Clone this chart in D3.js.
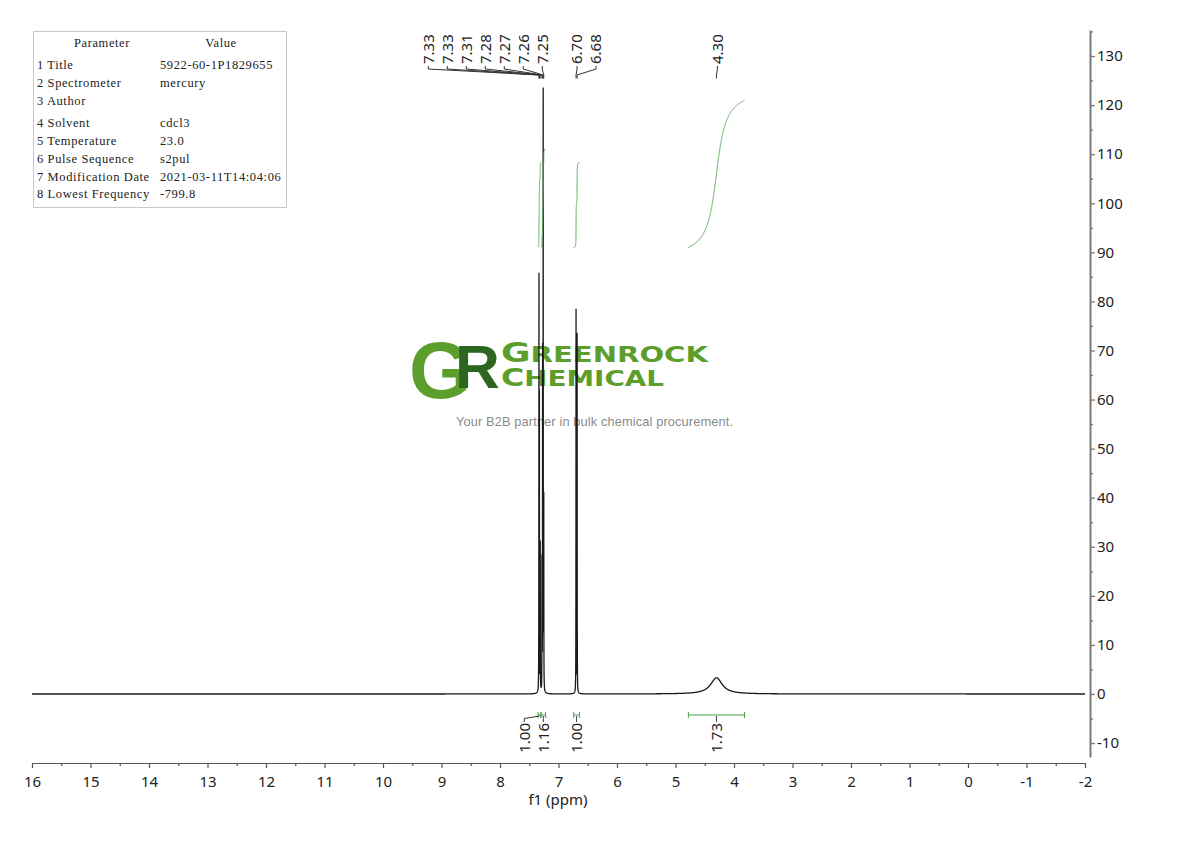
<!DOCTYPE html>
<html>
<head>
<meta charset="utf-8">
<script src="https://cdn.jsdelivr.net/npm/d3@7"></script>
<style>
    body { margin: 0; background: #fff; }
    svg { display: block; }
</style>
</head>
<body>
<svg id="nmr" width="1190" height="841"></svg>
<script>
// peaks: position (ppm), height, half width (ppm)
const peakPpm = [7.334, 7.327, 7.312, 7.282, 7.272, 7.262, 7.252, 6.700, 6.682, 4.300];
const peakHeight = [83, 58, 30, 26, 68, 121, 38, 78, 73, 3.3];
const peakWidth = [0.0015, 0.0015, 0.0015, 0.0015, 0.0015, 0.0015, 0.0015, 0.0015, 0.0015, 0.12];

// which peaks share one label fan
const multiplets = [[0, 1, 2, 3, 4, 5, 6], [7, 8], [9]];

// integral regions
const intFrom = [7.35, 7.30, 6.74, 4.78];
const intTo = [7.30, 7.22, 6.64, 3.82];
const intValue = [1.00, 1.16, 1.00, 1.73];

const xTicks = d3.range(-2, 17, 1);
const xMinor = d3.range(-1.5, 16, 1);
const yTicks = d3.range(-10, 131, 10);
const yMinor = d3.range(-5, 136, 10);

const paramNames = ["1 Title", "2 Spectrometer", "3 Author", "4 Solvent", "5 Temperature",
    "6 Pulse Sequence", "7 Modification Date", "8 Lowest Frequency"];
const paramValues = ["5922-60-1P1829655", "mercury", "", "cdcl3", "23.0", "s2pul",
    "2021-03-11T14:04:06", "-799.8"];

const svg = d3.select("#nmr");
const numFont = "'Noto Sans', 'Open Sans', sans-serif";

const x = d3.scaleLinear().domain([16, -2]).range([32, 1085]);
const y = d3.scaleLinear().domain([-12.84, 135.3]).range([757, 30]);

function intensity(p) {
    let s = 0;
    for (let i = 0; i < peakPpm.length; i++) {
        const d = (p - peakPpm[i]) / peakWidth[i];
        s += peakHeight[i] / (1 + d * d);
    }
    return s;
}

/**
 * parameter table, top left
 */
function drawTable() {
    const g = svg.append("g").attr("font-family", "'Liberation Serif', 'DejaVu Serif', serif")
        .attr("font-size", 12.5).attr("fill", "#222").attr("letter-spacing", 0.6);
    g.append("rect").attr("x", 33.5).attr("y", 31.5).attr("width", 253).attr("height", 176)
        .attr("fill", "none").attr("stroke", "#c8c8c8");
    g.append("text").attr("x", 102).attr("y", 47).attr("text-anchor", "middle").text("Parameter");
    g.append("text").attr("x", 221).attr("y", 47).attr("text-anchor", "middle").text("Value");
    const rowY = [69, 87, 105, 127, 145, 163, 181, 198];
    paramNames.forEach((n, i) => {
        g.append("text").attr("x", 37).attr("y", rowY[i]).text(n);
        g.append("text").attr("x", 160).attr("y", rowY[i]).text(paramValues[i]);
    });
}

/**
 * greenrock watermark in the middle
 */
function drawLogo() {
    const g = svg.append("g");
    // G and R overlap in the mark, so keep them in one text
    const gr = g.append("text").attr("x", 409).attr("y", 398)
        .attr("font-family", "'Liberation Sans', Arial, sans-serif").attr("font-weight", "bold");
    gr.append("tspan").attr("font-size", 80).attr("fill", "#5b9e2c").text("G");
    gr.append("tspan").attr("x", 455).attr("y", 388).attr("font-size", 62)
        .attr("fill", "#2d6620").text("R");

    const t1 = g.append("text").attr("x", 501).attr("y", 362)
        .attr("font-family", "'DejaVu Sans', sans-serif").attr("font-weight", "bold")
        .attr("fill", "#5b9e2c").attr("textLength", 207).attr("lengthAdjust", "spacingAndGlyphs");
    t1.append("tspan").attr("font-size", 26).text("G");
    t1.append("tspan").attr("font-size", 21).text("REENROCK");

    const t2 = g.append("text").attr("x", 501).attr("y", 386)
        .attr("font-family", "'DejaVu Sans', sans-serif").attr("font-weight", "bold")
        .attr("fill", "#5b9e2c").attr("textLength", 163).attr("lengthAdjust", "spacingAndGlyphs");
    t2.append("tspan").attr("font-size", 24).text("C");
    t2.append("tspan").attr("font-size", 21).text("HEMICAL");

    g.append("text").attr("x", 456).attr("y", 426)
        .attr("font-family", "'Liberation Sans', Arial, sans-serif").attr("font-size", 12.8)
        .attr("fill", "#8a8a8a").attr("textLength", 277)
        .text("Your B2B partner in bulk chemical procurement.");
}

function drawSpectrum() {
    let grid = d3.range(16, -2.0001, -0.002);
    peakPpm.forEach((c, i) => {
        for (let k = -60; k <= 60; k++) grid.push(c + k * peakWidth[i] * 0.25);
    });
    grid = grid.filter(p => p <= 16 && p >= -2).sort((a, b) => b - a);

    const line = d3.line().x(p => x(p)).y(p => y(intensity(p)));
    svg.append("path").datum(grid)
        .attr("d", line)
        .attr("fill", "none")
        .attr("stroke", "#1a1a1a")
        .attr("stroke-width", 1.3);
}

function drawIntegrals() {
    const base = 91, unit = 17.3;
    const green = "#4a9f4a";
    const g = svg.append("g");

    intFrom.forEach((a, i) => {
        const b = intTo[i];
        const pts = d3.range(0, 801).map(k => a + (b - a) * k / 800);
        let cum = [0];
        for (let k = 1; k < pts.length; k++) {
            cum.push(cum[k - 1] + (intensity(pts[k - 1]) + intensity(pts[k])) / 2 * Math.abs(pts[k] - pts[k - 1]));
        }
        const total = cum[cum.length - 1];
        const curve = pts.map((p, k) => [p, base + cum[k] / total * intValue[i] * unit]);
        g.append("path").datum(curve)
            .attr("d", d3.line().x(d => x(d[0])).y(d => y(d[1])))
            .attr("fill", "none").attr("stroke", "#5aab5a").attr("stroke-width", 1);

        // bracket under the baseline
        const x0 = x(a), x1 = x(b), by = 715;
        g.append("path")
            .attr("d", `M${x0},${by - 3}V${by + 3}M${x0},${by}H${x1}M${x1},${by - 3}V${by + 3}`)
            .attr("fill", "none").attr("stroke", green).attr("stroke-width", 1);
    });

    // labels, pushed left where they would collide
    const order = intFrom.map((a, i) => i).sort((i, j) => x(intFrom[j]) - x(intFrom[i]));
    let prev = Infinity;
    order.forEach(i => {
        const cx = (x(intFrom[i]) + x(intTo[i])) / 2;
        const lx = Math.min(cx, prev - 19);
        prev = lx;
        g.append("path")
            .attr("d", `M${cx},716L${lx},718.5V722`)
            .attr("fill", "none").attr("stroke", "#333").attr("stroke-width", 1);
        g.append("text")
            .attr("transform", `translate(${lx},723) rotate(-90)`)
            .attr("dy", "0.35em")
            .attr("text-anchor", "end")
            .attr("font-family", numFont).attr("font-size", 15).attr("fill", "#222")
            .text(intValue[i].toFixed(2));
    });
}

function drawPeakLabels() {
    const g = svg.append("g");
    const anchorEnd = [true, false, false];
    multiplets.forEach((m, gi) => {
        const n = m.length;
        m.forEach((pi, k) => {
            const px = x(peakPpm[pi]);
            const lx = anchorEnd[gi] ? x(peakPpm[m[n - 1]]) - 1.5 - 19 * (n - 1 - k)
                                     : x(peakPpm[m[0]]) + 1 + 19 * k;
            g.append("path")
                .attr("d", `M${lx},66V69L${px},75V78.5`)
                .attr("fill", "none").attr("stroke", "#333").attr("stroke-width", 1);
            g.append("text")
                .attr("transform", `translate(${lx},64) rotate(-90)`)
                .attr("dy", "0.35em")
                .attr("font-family", numFont).attr("font-size", 15).attr("fill", "#222")
                .text(peakPpm[pi].toFixed(2));
        });
    });
}

function drawAxes() {
    const xa = svg.append("g").attr("transform", "translate(0,763)");
    xa.call(d3.axisBottom(x).tickValues(xTicks).tickSize(5).tickSizeOuter(0).tickPadding(8)
        .tickFormat(d => String(d)));
    xa.append("g").call(d3.axisBottom(x).tickValues(xMinor).tickSize(3).tickFormat(""))
        .select(".domain").remove();
    xa.selectAll("path, line").attr("stroke", "#555").attr("stroke-width", 1.2);
    xa.selectAll("text").attr("font-family", numFont).attr("font-size", 15).attr("fill", "#222");

    svg.append("text").attr("x", 558).attr("y", 805).attr("text-anchor", "middle")
        .attr("font-family", numFont).attr("font-size", 15).attr("fill", "#222").text("f1 (ppm)");

    const ya = svg.append("g").attr("transform", "translate(1090,0)");
    ya.call(d3.axisRight(y).tickValues(yTicks).tickSize(5).tickSizeOuter(0).tickPadding(2)
        .tickFormat(d => String(d)));
    ya.append("g").call(d3.axisRight(y).tickValues(yMinor).tickSize(3).tickFormat(""))
        .select(".domain").remove();
    ya.selectAll("path, line").attr("stroke", "#7a7a7a").attr("stroke-width", 1.3);
    ya.select(".domain").attr("stroke-width", 2);
    ya.selectAll("text").attr("font-family", numFont).attr("font-size", 15).attr("fill", "#222");
}

drawTable();
drawLogo();
drawSpectrum();
drawIntegrals();
drawPeakLabels();
drawAxes();
</script>
</body>
</html>
